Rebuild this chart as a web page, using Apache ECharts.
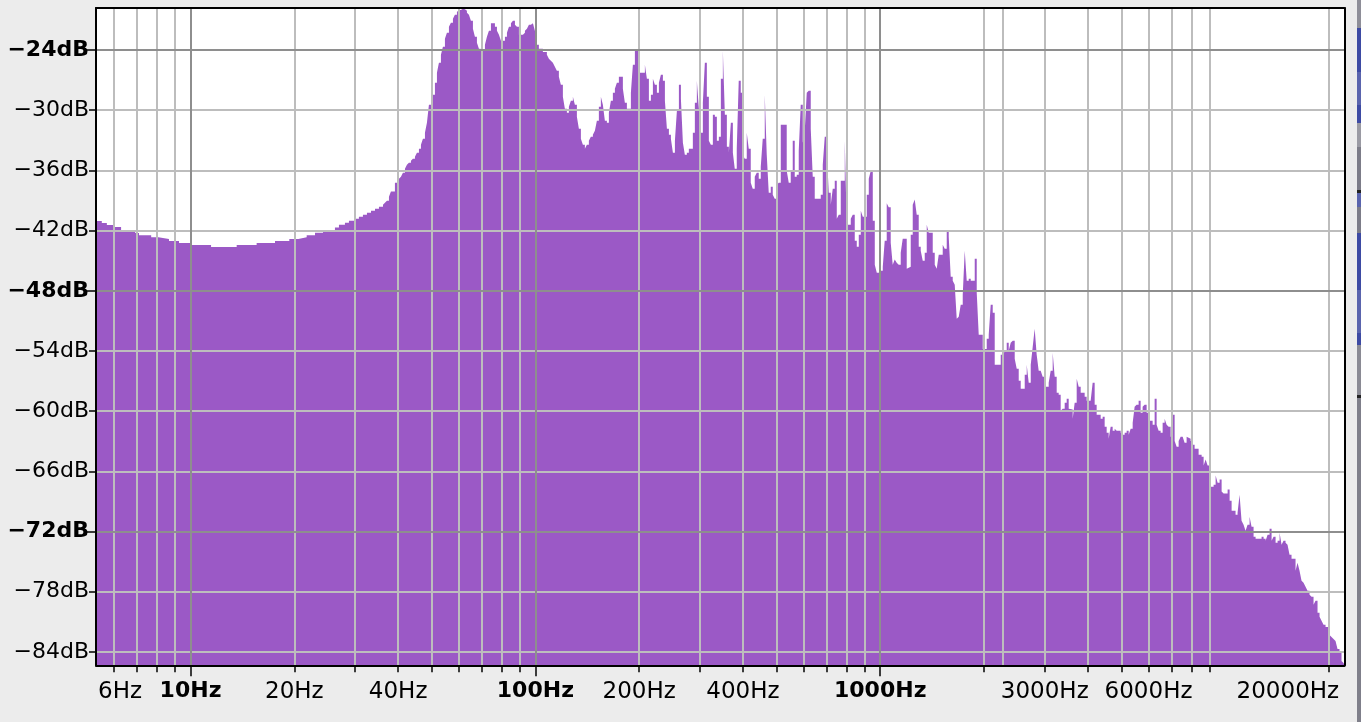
<!DOCTYPE html>
<html>
<head>
<meta charset="utf-8">
<script src="https://cdn.jsdelivr.net/npm/echarts@6/dist/echarts.min.js"></script>
<style>
html,body{margin:0;padding:0;background:#ececec;overflow:hidden}
#chart{width:1361px;height:722px}
</style>
</head>
<body>
<div id="chart"></div>
<script>
// Frequency (Hz) at which each spectrum level starts (held until the next frequency)
const freqHz = [
5.32,5.53,5.72,5.97,6.29,6.91,7.09,7.69,8.07,8.66,9.26,9.97,11.47,13.61,15.55,17.58,19.34,20.54,21.72,22.96,
24.22,26.23,26.94,28.04,28.80,30.17,30.78,31.62,32.48,33.37,34.27,35.19,36.15,36.63,37.12,37.62,38.12,39.15,40.22,40.76,
41.30,41.86,42.42,42.99,43.57,44.15,44.75,45.35,45.96,46.58,47.20,47.84,48.48,49.13,50.46,51.14,51.83,52.52,53.23,53.94,
54.67,55.40,56.15,56.90,57.67,58.44,59.23,60.02,60.83,61.65,62.48,63.32,64.17,65.03,65.91,66.79,67.69,68.60,69.52,71.41,
72.37,73.34,74.33,76.34,77.37,78.41,79.46,81.61,82.71,83.82,84.95,86.09,87.25,88.42,89.61,92.03,93.27,94.52,95.79,97.08,
98.39,99.67,101.01,102.37,105.14,107.99,109.44,110.91,112.40,113.91,115.44,117.00,118.57,120.17,121.78,123.42,125.08,126.76,128.47,130.19,
131.95,133.72,135.52,137.34,139.19,141.04,142.94,144.86,146.81,148.78,150.78,152.81,154.87,156.95,159.06,161.20,163.37,165.56,167.79,170.05,
172.33,174.65,179.38,181.79,184.24,189.23,191.77,194.35,199.62,207.78,210.57,213.41,216.28,219.19,222.13,225.12,228.15,231.21,234.32,237.48,
240.67,243.91,247.19,250.51,253.88,257.29,260.75,264.26,267.81,271.3,274.95,278.65,286.20,290.05,293.95,297.90,301.91,305.97,310.08,314.25,
318.48,322.76,327.10,331.50,335.96,340.48,345.06,349.70,354.40,359.17,364.00,368.89,373.85,378.6,383.7,388.8,394.1,399.4,404.7,410.2,
415.7,421.3,426.9,432.7,438.5,444.4,450.4,456.4,462.6,468.8,475.1,481.5,488.0,494.5,501.2,507.9,514.8,535.7,542.9,550.2,
557.6,565.1,572.7,580.4,588.2,596.2,604.2,612.3,620.5,628.9,637.3,645.9,672.3,681.4,690.5,699.8,709.2,718.8,728.4,738.2,
748.2,758.2,768.4,789.2,799.8,821.5,832.5,843.7,855.1,866.6,878.3,890.1,914.2,926.5,938.9,951.6,964.4,977.3,990.5,1003.8,
1017.3,1030.5,1044.4,1058.4,1072.7,1087.1,1101.7,1116.5,1131.5,1146.8,1162.2,1193.7,1209.7,1226.0,1242.5,1259.2,1276.1,1293.3,1310.7,1328.3,
1346.2,1364.3,1382.6,1420.1,1439.2,1458.4,1478.0,1518.0,1538.4,1559.1,1580.1,1601.3,1622.9,1644.7,1666.8,1689.2,1711.9,1735.0,1758.3,1781.9,
1805.9,1830.2,1879.7,1905.0,1930.6,1982.9,2036.3,2063.7,2091.4,2119.6,2148.1,2235.9,2266.0,2296.4,2327.3,2358.6,2390.3,2422.4,2455.0,2488.0,
2521.5,2555.4,2624.6,2659.9,2695.6,2731.9,2768.6,2805,2842.7,2880.9,2919.7,2958.9,2998.7,3079.9,3121.3,3163.3,3205.8,3248.9,3292.6,3336.9,
3381.7,3427.2,3473.3,3520.0,3567.3,3615.3,3663.9,3713.2,3763.1,3813.7,3916,3968.7,4076.2,4131.0,4186.6,4242.9,4357.7,4416.3,4475.7,4535.9,
4596.9,4658.7,4721.4,4784.9,4849.2,4980.5,5047.5,5115.4,5184.2,5253.9,5324.5,5396.1,5467,5540.5,5615.0,5690.5,5767.1,5844.6,5923.2,6002.9,
6165.4,6248.3,6332.4,6417.5,6503.8,6591.3,6680.0,6769.8,6860.8,6953.1,7046.6,7141.4,7237.4,7334.8,7433.4,7533.4,7633,7735.7,7839.7,7945.1,
8052.0,8160.3,8381.2,8551,8666,8782,8900,9020,9264,9389,9515,9643,9773,9904,10172,10309,10448,10726,10871,11017,
11165,11315,11467,11621,11778,11936,12097,12260,12761,12933,13107,13283,13462,13643,13826,14012,14201,14392,14585,14776,
14975,15176,15380,15587,16009,16224,16442,16663,16887,17114,17344,17578,17814,18054,18296,18542,18792,19044,19300,19560,
20089,20359,20630,20907,21188,21473,21762,22054,22200
];
// Spectrum level (dB) for each start frequency above
const levelDb = [
-41.05,-41.25,-41.45,-41.65,-42.05,-42.25,-42.45,-42.65,-42.84,-43.04,-43.24,-43.44,-43.64,-43.44,-43.24,-43.04,-42.84,-42.65,-42.45,-42.21,
-41.95,-41.68,-41.42,-41.22,-41.02,-40.82,-40.62,-40.42,-40.22,-40.02,-39.82,-39.62,-39.42,-39.22,-39.02,-38.63,-38.09,-37.23,-36.83,-36.63,
-36.23,-35.83,-35.44,-35.24,-35.04,-34.84,-34.64,-34.24,-33.84,-33.44,-32.84,-32.25,-31.25,-29.45,-28.46,-27.26,-26.26,-25.27,-24.47,-23.67,
-22.87,-22.28,-21.68,-21.28,-20.88,-20.48,-20.21,-20.01,-19.88,-19.94,-20.08,-20.28,-20.48,-21.08,-21.88,-22.67,-23.27,-23.87,-23.93,-23.47,
-22.67,-22.08,-21.34,-21.68,-22.08,-22.47,-23.07,-22.67,-22.28,-21.68,-21.34,-21.08,-21.48,-21.68,-22.47,-22.28,-22.08,-21.88,-21.48,-21.34,
-21.48,-22.08,-23.47,-23.87,-24.20,-24.47,-24.87,-25.07,-25.27,-25.66,-26.06,-26.66,-27.46,-28.66,-29.85,-30.25,-29.65,-29.05,-28.66,-29.45,
-30.65,-31.85,-32.84,-33.44,-33.84,-33.44,-33.04,-32.64,-32.44,-32.05,-31.05,-29.65,-28.66,-29.45,-31.05,-31.25,-30.25,-29.05,-28.26,-27.86,
-27.26,-26.66,-27.86,-29.25,-29.85,-28.26,-25.47,-24.07,-26.26,-25.47,-26.86,-29.05,-28.46,-26.86,-27.46,-28.26,-27.26,-26.46,-27.06,-29.05,
-31.85,-32.44,-32.84,-34.24,-33.04,-30.05,-27.46,-28.86,-33.24,-34.44,-34.24,-33.84,-32.25,-29.25,-27.06,-29.85,-32.25,-29.25,-25.27,-28.66,
-33.04,-33.44,-30.45,-30.65,-33.04,-32.64,-26.86,-24.07,-30.45,-33.64,-34.24,-31.25,-34.24,-35.83,-33.84,-27.06,-28.26,-34.44,-34.84,-32.25,
-33.84,-37.23,-37.83,-36.63,-36.23,-36.83,-35.64,-32.84,-28.46,-34.44,-38.23,-37.63,-38.43,-38.83,-37.43,-37.23,-31.45,-36.03,-37.23,-36.03,
-33.04,-36.63,-36.43,-34.04,-29.45,-33.24,-32.05,-28.26,-28.06,-31.85,-36.63,-38.83,-38.43,-35.44,-32.64,-34.04,-38.23,-39.42,-37.83,-37.03,
-40.82,-40.42,-37.03,-33.04,-41.42,-40.82,-40.42,-43.01,-43.61,-42.41,-40.02,-40.62,-38.43,-36.83,-36.03,-41.02,-45.41,-46.20,-46.10,-46.00,
-45.61,-43.01,-39.28,-39.68,-43.21,-45.41,-44.88,-45.21,-45.41,-44.21,-42.81,-45.80,-45.61,-42.41,-39.42,-38.89,-40.42,-43.61,-44.01,-45.01,
-44.21,-41.42,-42.21,-44.21,-45.41,-45.80,-44.41,-43.41,-43.81,-42.02,-42.61,-46.60,-47.00,-47.40,-50.79,-50.59,-49.39,-48.40,-44.01,-47.00,
-46.80,-47.00,-44.81,-48.20,-52.39,-53.79,-52.78,-52.39,-49.39,-50.19,-55.38,-54.38,-54.58,-53.98,-53.18,-53.98,-53.18,-52.98,-54.78,-55.78,
-56.97,-57.77,-56.37,-55.38,-57.17,-55.38,-53.58,-51.79,-54.38,-55.98,-56.17,-56.57,-57.57,-57.17,-55.98,-54.18,-56.57,-58.17,-58.37,-59.96,
-59.76,-59.16,-58.77,-59.76,-59.82,-60.76,-59.16,-56.77,-57.57,-58.17,-58.57,-58.97,-59.16,-57.17,-59.36,-60.36,-60.76,-60.56,-61.56,-62.16,
-62.75,-61.56,-61.96,-61.76,-61.96,-62.16,-62.36,-62.16,-61.96,-62.36,-61.76,-61.16,-59.56,-59.36,-58.97,-60.16,-59.56,-59.36,-60.16,-60.96,
-61.36,-58.77,-61.36,-61.96,-62.16,-61.16,-60.76,-61.36,-61.56,-62.56,-60.36,-62.96,-63.55,-62.96,-62.56,-62.75,-63.15,-62.56,-62.75,-62.96,
-63.35,-63.75,-64.35,-64.55,-65.41,-64.81,-65.41,-67.54,-67.34,-66.41,-67.14,-66.80,-68.00,-68.20,-67.80,-68.93,-69.93,-70.33,-70.13,-68.34,
-70.93,-71.33,-71.93,-71.33,-70.53,-71.53,-72.52,-72.72,-72.52,-72.72,-72.92,-72.32,-71.72,-72.92,-72.52,-73.12,-72.92,-72.12,-73.32,-72.92,
-73.12,-73.32,-74.32,-74.72,-75.91,-75.12,-75.91,-76.91,-77.11,-77.51,-77.91,-78.30,-78.50,-79.30,-78.90,-80.10,-80.50,-80.90,-81.30,-81.50,
-82.30,-82.50,-82.70,-82.90,-83.70,-84.09,-84.89,-85.09,-85.09
];

// Axis ticks / labels / grid
const labelFreqs = [6, 10, 20, 40, 100, 200, 400, 1000, 3000, 6000, 20000];
const boldFreqLabels = [10, 100, 1000];
const minorTickFreqs = [6, 7, 8, 9, 20, 30, 40, 50, 60, 70, 80, 90, 200, 300, 400, 500, 600, 700, 800, 900,
  2000, 3000, 4000, 5000, 6000, 7000, 8000, 9000, 20000];
const majorTickFreqs = [10, 100, 1000];
const extraGridFreqs = [2270];
const dbTicks = [-84, -78, -72, -66, -60, -54, -48, -42, -36, -30, -24];
const majorDb = [-72, -48, -24];

const FONT = 'DejaVu Sans';
const X_MIN = 5.32, X_MAX = 22200, Y_MIN = -85.33, Y_MAX = -19.81;
const MINOR_GRID = '#bdbdbd', MAJOR_GRID = '#8e8e8e', FILL = '#9b59c6';

const chart = echarts.init(document.getElementById('chart'), null, {renderer: 'canvas'});

const seriesData = freqHz.map((f, i) => [f, levelDb[i]]);

const gridMarks = []
  .concat(dbTicks.filter(d => majorDb.indexOf(d) < 0).map(d => ({yAxis: d, lineStyle: {color: MINOR_GRID}})))
  .concat(minorTickFreqs.concat(extraGridFreqs).map(f => ({xAxis: f, lineStyle: {color: MINOR_GRID}})))
  .concat(majorDb.map(d => ({yAxis: d, lineStyle: {color: MAJOR_GRID}})))
  .concat(majorTickFreqs.map(f => ({xAxis: f, lineStyle: {color: MAJOR_GRID}})));

const tickStyle = {color: '#000', width: 1.5};
const frameLine = {show: true, onZero: false, lineStyle: {color: '#000', width: 2}};
const none = {show: false};

const xLabelRich = {
  n: {fontFamily: FONT, fontSize: 23, color: '#000'},
  b: {fontFamily: FONT, fontSize: 22, fontWeight: 'bold', color: '#000'},
  l: {fontFamily: FONT, fontSize: 23, color: '#000', padding: [0, 0, 0, 12]},
  r: {fontFamily: FONT, fontSize: 23, color: '#000', padding: [0, 82, 0, 0]}
};
const yLabelRich = {
  n: {fontFamily: FONT, fontSize: 22, color: '#000'},
  b: {fontFamily: FONT, fontSize: 22, fontWeight: 'bold', color: '#000'}
};

function xLabel(v) {
  const f = Math.round(v);
  const t = f + 'Hz';
  if (boldFreqLabels.indexOf(f) >= 0) return '{b|' + t + '}';
  if (f === labelFreqs[0]) return '{l|' + t + '}';
  if (f === labelFreqs[labelFreqs.length - 1]) return '{r|' + t + '}';
  return '{n|' + t + '}';
}
function yLabel(v) {
  const d = Math.round(v);
  const t = '\u2212' + Math.abs(d) + 'dB';
  return (majorDb.indexOf(d) >= 0 ? '{b|' : '{n|') + t + '}';
}

const chromeBlocks = [
  [0, 28, '#8e8e98'], [28, 72, '#3d4aa3'], [72, 105, '#5a64ad'], [105, 123, '#3d4aa3'],
  [123, 147, '#9a9aa3'], [147, 190, '#7c7c88'], [190, 193, '#222222'], [193, 207, '#5a64ad'],
  [207, 233, '#7c7c88'], [233, 290, '#3d4aa3'], [290, 333, '#5a64ad'], [333, 345, '#3d4aa3'],
  [345, 395, '#8a8a94'], [395, 398, '#222222'], [398, 722, '#7f7f8a']
];

const option = {
  backgroundColor: '#ececec',
  animation: false,
  textStyle: {fontFamily: FONT},
  grid: {left: 96, right: 16.5, top: 8, bottom: 56.7, containLabel: false, outerBoundsMode: 'none',
    show: true, backgroundColor: '#ffffff', borderWidth: 0},
  xAxis: [
    {type: 'log', logBase: 10, min: X_MIN, max: X_MAX, position: 'bottom', z: 10,
      axisLine: frameLine,
      axisTick: {show: true, customValues: minorTickFreqs, length: 7, lineStyle: tickStyle},
      axisLabel: {show: true, customValues: labelFreqs, margin: 15, fontFamily: FONT, fontSize: 23,
        color: '#000', formatter: xLabel, rich: xLabelRich},
      splitLine: none, minorTick: none, minorSplitLine: none},
    {type: 'log', logBase: 10, min: X_MIN, max: X_MAX, position: 'bottom', z: 10,
      axisLine: {show: false, onZero: false},
      axisTick: {show: true, customValues: majorTickFreqs, length: 11, lineStyle: tickStyle},
      axisLabel: none, splitLine: none},
    {type: 'log', logBase: 10, min: X_MIN, max: X_MAX, position: 'top', z: 10,
      axisLine: frameLine, axisTick: none, axisLabel: none, splitLine: none}
  ],
  yAxis: [
    {type: 'value', min: Y_MIN, max: Y_MAX, position: 'left', z: 10,
      axisLine: frameLine,
      axisTick: {show: true, customValues: dbTicks, length: 7, lineStyle: tickStyle},
      axisLabel: {show: true, customValues: dbTicks, margin: 7, fontFamily: FONT, fontSize: 22,
        color: '#000', formatter: yLabel, rich: yLabelRich},
      splitLine: none},
    {type: 'value', min: Y_MIN, max: Y_MAX, position: 'left', z: 10,
      axisLine: {show: false, onZero: false},
      axisTick: {show: true, customValues: majorDb, length: 10, lineStyle: tickStyle},
      axisLabel: none, splitLine: none},
    {type: 'value', min: Y_MIN, max: Y_MAX, position: 'right', z: 10,
      axisLine: frameLine, axisTick: none, axisLabel: none, splitLine: none}
  ],
  series: [{
    type: 'line',
    xAxisIndex: 0, yAxisIndex: 0,
    data: seriesData,
    step: 'end',
    symbol: 'none', showSymbol: false,
    silent: true, clip: true,
    lineStyle: {width: 0, opacity: 0},
    areaStyle: {color: FILL, opacity: 1, origin: 'start'},
    z: 2,
    markLine: {
      silent: true, animation: false, symbol: ['none', 'none'],
      label: {show: false}, emphasis: {disabled: true},
      lineStyle: {width: 2, type: 'solid'},
      data: gridMarks
    }
  }],
  graphic: chromeBlocks.map(b => ({
    type: 'rect', z: 100, silent: true,
    shape: {x: 1357, y: b[0], width: 4, height: b[1] - b[0]},
    style: {fill: b[2]}
  }))
};
chart.setOption(option);
</script>
</body>
</html>
